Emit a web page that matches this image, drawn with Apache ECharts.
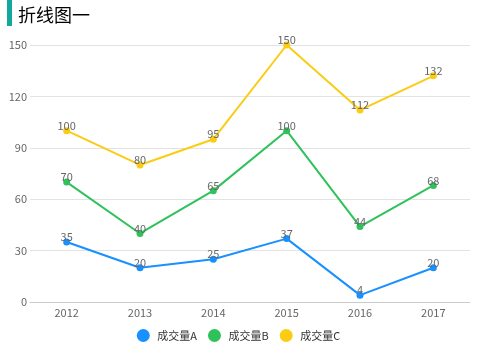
<!DOCTYPE html>
<html>
<head>
<meta charset="utf-8">
<script src="https://cdn.jsdelivr.net/npm/echarts@6/dist/echarts.min.js"></script>
<style>
  html, body { margin: 0; padding: 0; background: #fff; }
  #chart { width: 477px; height: 353px; }
</style>
</head>
<body>
<div id="chart"></div>
<script>
// 数据
const years = ['2012', '2013', '2014', '2015', '2016', '2017']
const seriesNames = ['成交量A', '成交量B', '成交量C']
const volA = [35, 20, 25, 37, 4, 20]
const volB = [70, 40, 65, 100, 44, 68]
const volC = [100, 80, 95, 150, 112, 132]
const colors = ['#1890ff', '#2fc25b', '#facc14']

const font = '"Noto Sans CJK SC", "Noto Sans", sans-serif'

function makeLine (name, data, color) {
  return {
    name: name,
    type: 'line',
    data: data,
    symbol: 'circle',
    symbolSize: 7,
    itemStyle: { color: color },
    lineStyle: { width: 2, color: color },
    label: {
      show: true,
      position: 'top',
      distance: -4,
      color: '#666',
      fontSize: 11,
      fontFamily: font
    }
  }
}

const mychart = echarts.init(document.getElementById('chart'))
mychart.setOption({
  animation: false,
  textStyle: { fontFamily: font },
  title: {
    text: '折线图一',
    left: 13,
    top: 1,
    textStyle: { fontSize: 18, fontWeight: 'normal', color: '#000', fontFamily: font }
  },
  graphic: [
    {
      type: 'rect',
      left: 7,
      top: 0,
      shape: { width: 5, height: 26 },
      style: { fill: '#13a89e' }
    }
  ],
  legend: {
    data: seriesNames,
    bottom: 6,
    left: 'center',
    icon: 'circle',
    itemWidth: 18,
    itemHeight: 13,
    itemGap: 11,
    textStyle: { fontSize: 11, color: '#333', fontFamily: font }
  },
  grid: {
    left: 30,
    right: 7,
    top: 45,
    bottom: 51,
    containLabel: false
  },
  xAxis: {
    type: 'category',
    data: years,
    boundaryGap: true,
    axisLine: { lineStyle: { color: '#ccc' } },
    axisTick: { show: false },
    axisLabel: { color: '#666', fontSize: 11, margin: 5 }
  },
  yAxis: {
    type: 'value',
    min: 0,
    max: 150,
    interval: 30,
    axisLine: { show: false },
    axisTick: { show: false },
    axisLabel: { color: '#666', fontSize: 11, margin: 3 },
    splitLine: { lineStyle: { color: '#e3e3e3' } }
  },
  series: [
    makeLine(seriesNames[0], volA, colors[0]),
    makeLine(seriesNames[1], volB, colors[1]),
    makeLine(seriesNames[2], volC, colors[2])
  ]
})
</script>
</body>
</html>
